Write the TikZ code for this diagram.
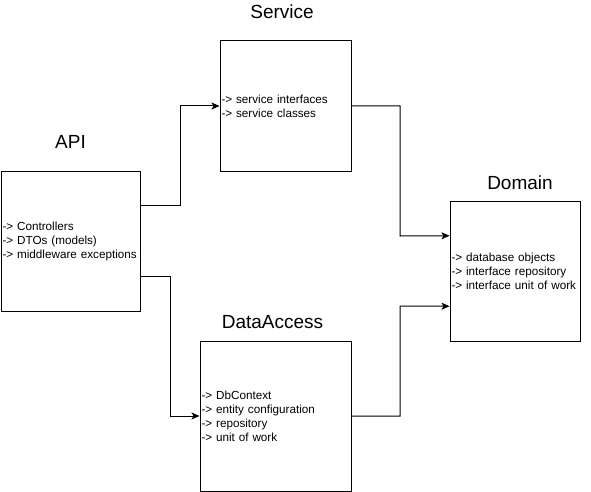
\documentclass[tikz,border=0pt]{standalone}
\usepackage{fontspec}
\setmainfont{Liberation Sans}
\usetikzlibrary{arrows.meta,calc}
\begin{document}
\begin{tikzpicture}[x=1pt,y=-1pt,
  box/.style={draw=black,line width=1pt,fill=white,inner xsep=1.5pt,align=left,
    font=\fontsize{11.7}{14}\selectfont},
  title/.style={font=\fontsize{19}{22}\selectfont},
  conn/.style={draw=black,line width=1pt,-{Stealth[length=8pt,width=7pt,inset=2pt]}}]
\useasboundingbox[fill=white] (0,0) rectangle (591,492);
\node[box,minimum width=139pt,minimum height=140pt,text width=136pt] (api) at (70.5,241) {-> Controllers\\-> DTOs (models)\\-> middleware exceptions};
\node[box,minimum width=131pt,minimum height=130pt,text width=128pt] (svc) at (285.5,106) {-> service interfaces\\-> service classes};
\node[box,minimum width=130pt,minimum height=140pt,text width=127pt] (dom) at (515,271) {-> database objects\\-> interface repository\\-> interface unit of work};
\node[box,minimum width=151pt,minimum height=150pt,text width=148pt] (da) at (275.5,416) {-> DbContext\\-> entity configuration\\-> repository\\-> unit of work};
\node[title] (tapi) at (70.5,142) {API};
\node[title] (tsvc) at (282,12) {Service};
\node[title] (tdom) at (520,183) {Domain};
\node[title] (tda) at (272.5,322) {DataAccess};
\coordinate (a1) at ($(api.north east)!0.25!(api.south east)$);
\coordinate (a2) at ($(api.north east)!0.75!(api.south east)$);
\coordinate (d1) at ($(dom.north west)!0.25!(dom.south west)$);
\coordinate (d2) at ($(dom.north west)!0.75!(dom.south west)$);
\draw[conn] (a1) -| (180,106) -- (svc.west);
\draw[conn] (a2) -| (170,416) -- (da.west);
\draw[conn] (svc.east) -| (400,236) -- (d1);
\draw[conn] (da.east) -| (400,306) -- (d2);
\end{tikzpicture}
\end{document}
